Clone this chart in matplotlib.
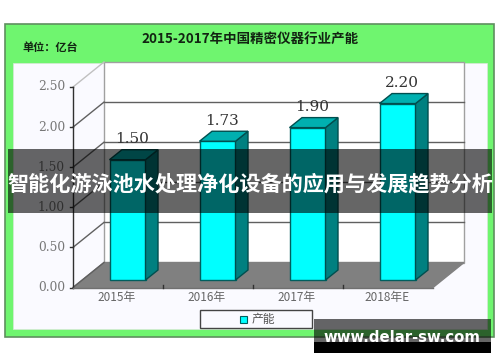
import matplotlib
matplotlib.use('Agg')
import matplotlib.pyplot as plt
from matplotlib.patches import Polygon, Rectangle
from matplotlib.transforms import Affine2D

plt.rcParams['font.family'] = ['Noto Sans CJK SC', 'DejaVu Sans']

categories = ['2015年', '2016年', '2017年', '2018年E']
values = [1.50, 1.73, 1.90, 2.20]
value_labels = ['1.50', '1.73', '1.90', '2.20']
y_ticks = [0.0, 0.5, 1.0, 1.5, 2.0, 2.5]
y_tick_labels = ['0.00', '0.50', '1.00', '1.50', '2.00', '2.50']
chart_title = '2015-2017年中国精密仪器行业产能'
unit_label = '单位：亿台'
legend_label = '产能'
banner_text = '智能化游泳池水处理净化设备的应用与发展趋势分析'
site_text = 'www.delar-sw.com'

W, H = 500, 362
DEPTH_X, DEPTH_Y = 31, 25      # wall depth, px
BAR_DX, BAR_DY = 9.5, 7.5      # bar set back from the front plane, px
SIDE_X, SIDE_Y = 12.5, 10      # bar depth, px
BAR_W = 0.4

fig = plt.figure(figsize=(W / 100, H / 100), dpi=100, facecolor='white')


def fig_rect(x0, y0, x1, y1, **kw):
    # rectangle in image pixels, y measured from the top
    fig.add_artist(Rectangle((x0 / W, 1 - y1 / H), (x1 - x0) / W, (y1 - y0) / H,
                             transform=fig.transFigure, **kw))


def fig_text(x, y, s, **kw):
    fig.text(x / W, 1 - y / H, s, ha=kw.pop('ha', 'center'), va='center', **kw)


# frame
fig_rect(5, 24, 494, 337, facecolor='#6ff56f', edgecolor='#5f8f5f', linewidth=1.2, zorder=-3)
fig_rect(13, 63, 487, 329, facecolor='#fafaff', edgecolor='#d8e8d8', linewidth=0.5, zorder=-2)

ax = fig.add_axes([73 / W, 1 - 287.5 / H, 360 / W, 200.5 / H])
ax.set_xlim(0, len(categories))
ax.set_ylim(0, 2.5)
ax.axis('off')


def shifted(dx, dy):
    return ax.transData + Affine2D().translate(dx, dy)


back = shifted(DEPTH_X, DEPTH_Y)
n = len(categories)

# back wall, side wall, floor
ax.add_patch(Rectangle((0, 0), n, 2.5, transform=back, facecolor='white',
                       edgecolor='#a0a0a0', linewidth=1, clip_on=False, zorder=1))
ax.add_patch(Polygon([ax.transData.transform((0, 0)),
                      ax.transData.transform((n, 0)),
                      back.transform((n, 0)),
                      back.transform((0, 0))],
                     transform=None, facecolor='#808080', edgecolor='#808080',
                     clip_on=False, zorder=2))

for t in y_ticks:
    p0 = ax.transData.transform((0, t))
    p1 = back.transform((0, t))
    col = '#c0c0c0' if t == 2.5 else '#606060'
    ax.plot([p0[0], p1[0]], [p0[1], p1[1]], transform=None, color=col, lw=1,
            clip_on=False, zorder=2)
    if t > 0 and t < 2.5:
        ax.plot([0, n], [t, t], transform=back, color='#606060', lw=1, clip_on=False, zorder=1.5)
    ax.plot([-0.03, 0], [t, t], color='#303030', lw=1, clip_on=False, zorder=3)
    ax.text(-0.09, t, y_tick_labels[y_ticks.index(t)], ha='right', va='center', fontsize=8.8,
            family=['DejaVu Serif'], color='#777777')

# axis lines
ax.plot([0, 0], [0, 2.5], color='#303030', lw=1, clip_on=False, zorder=3)
ax.plot([0, n], [0, 0], color='#707070', lw=1, clip_on=False, zorder=3)
for i in range(1, n):
    ax.plot([i, i], [0, 0.035], color='#303030', lw=1, clip_on=False, zorder=3)

# bars
xs = [i + 0.5 for i in range(n)]
front = shifted(BAR_DX, BAR_DY)
front_rects = ax.bar(xs, values, width=BAR_W, bottom=0, color='#00ffff', edgecolor='#005f5f',
                     linewidth=1, transform=front, clip_on=False, zorder=5)
for rect in front_rects:
    x0, x1 = rect.get_x(), rect.get_x() + rect.get_width()
    top = rect.get_height()
    a = front.transform((x1, 0))
    b = front.transform((x1, top))
    c = front.transform((x0, top))
    ax.add_patch(Polygon([a, b, b + (SIDE_X, SIDE_Y), a + (SIDE_X, SIDE_Y)], transform=None,
                         facecolor='#008080', edgecolor='#004f4f', linewidth=1,
                         clip_on=False, zorder=5))
    ax.add_patch(Polygon([c, b, b + (SIDE_X, SIDE_Y), c + (SIDE_X, SIDE_Y)], transform=None,
                         facecolor='#00b0b0', edgecolor='#004f4f', linewidth=1,
                         clip_on=False, zorder=5))

label_tr = shifted(14, 28)
for x, v, s in zip(xs, values, value_labels):
    ax.text(x, v, s, transform=label_tr, ha='center', va='center', fontsize=11,
            family=['DejaVu Serif'], color='#333333', zorder=6, clip_on=False)

for x, c in zip(xs, categories):
    ax.annotate(c, (x, 0), xytext=(-1, -9.5), textcoords='offset pixels', ha='center', va='center',
                fontsize=8.5, color='#666666', annotation_clip=False)

# titles
fig_text(250, 39, chart_title, fontsize=9.7, fontweight='bold', color='#122412')
fig_text(50, 47, unit_label, fontsize=8, fontweight='bold', color='#122412')

# legend box
fig_rect(199.5, 310, 312, 328, facecolor='#fafaff', edgecolor='#444444', linewidth=1, zorder=3)
fig_rect(240, 316, 246.5, 323, facecolor='#00ffff', edgecolor='#005f5f', linewidth=0.8, zorder=4)
fig_text(263, 319, legend_label, fontsize=8.5, color='#555555', zorder=4)

# banner and watermark
fig_rect(8, 149, 492, 213, facecolor='black', alpha=0.6, edgecolor='none', zorder=8)
fig_text(250, 184, banner_text, fontsize=15.2, fontweight='bold', color='white', zorder=9)
fig_rect(314, 319, 491, 342, facecolor='black', alpha=0.6, edgecolor='none', zorder=8)
fig_rect(314, 342, 491, 353, facecolor='black', edgecolor='none', zorder=8)
fig_text(402, 337, site_text, fontsize=10.7, fontweight='bold', color='white', zorder=9,
         family=['DejaVu Sans'])

fig.savefig('out.png', dpi=100)
